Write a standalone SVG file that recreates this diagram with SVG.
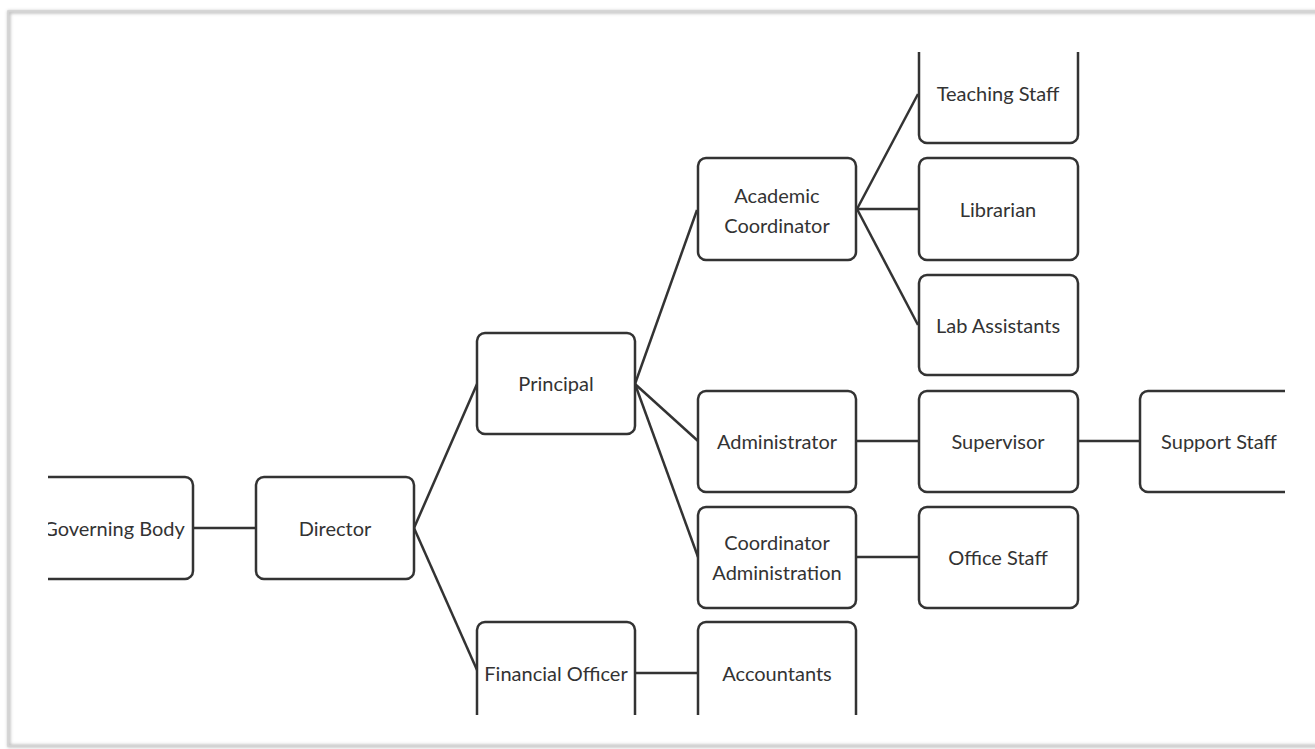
<svg xmlns="http://www.w3.org/2000/svg" width="1315" height="749" viewBox="0 0 1315 749">
<defs>
<style>
.box{fill:#fff;stroke:#333;stroke-width:2.5}
.lbl{font-family:Lato,"Open Sans","Liberation Sans",sans-serif;font-size:20px;fill:#333;text-anchor:middle;dominant-baseline:central}
.con line{stroke:#333;stroke-width:2.5;fill:none}
</style>
<clipPath id="clip"><rect x="48" y="52" width="1237" height="663"/></clipPath>
<filter id="sh" x="-5%" y="-5%" width="110%" height="110%"><feGaussianBlur stdDeviation="1.5"/></filter>
</defs>
<rect width="1315" height="749" fill="#fff"/>
<rect x="9" y="12" width="1320" height="734" fill="none" stroke="#bbb" stroke-width="3" filter="url(#sh)"/>
<rect x="8" y="11" width="1320" height="735" fill="none" stroke="#d4d4d4" stroke-width="1.5"/>
<g clip-path="url(#clip)">
<g id="connectors" class="con">
<line x1="193" y1="528" x2="256" y2="528"/>
<line x1="414" y1="528" x2="477" y2="384"/>
<line x1="414" y1="528" x2="477" y2="670"/>
<line x1="635" y1="384" x2="697" y2="210"/>
<line x1="635" y1="384" x2="698" y2="441"/>
<line x1="635" y1="384" x2="698" y2="557"/>
<line x1="857" y1="209" x2="918" y2="94"/>
<line x1="857" y1="209" x2="918" y2="209"/>
<line x1="857" y1="209" x2="918" y2="325"/>
<line x1="856" y1="441" x2="919" y2="441"/>
<line x1="1079" y1="441" x2="1140" y2="441"/>
<line x1="856" y1="557" x2="919" y2="557"/>
<line x1="636" y1="673" x2="698" y2="673"/>
</g>
<g id="governing"><rect class="box" x="35" y="477" width="158" height="102" rx="8"/><text class="lbl" x="114" y="528">Governing Body</text></g>
<g id="director"><rect class="box" x="256" y="477" width="158" height="102" rx="8"/><text class="lbl" x="335" y="528">Director</text></g>
<g id="principal"><rect class="box" x="477" y="333" width="158" height="101" rx="8"/><text class="lbl" x="556" y="383">Principal</text></g>
<g id="financial"><rect class="box" x="477" y="622" width="158" height="101" rx="8"/><text class="lbl" x="556" y="673">Financial Officer</text></g>
<g id="academic"><rect class="box" x="698" y="158" width="158" height="102" rx="8"/><text class="lbl" x="777" y="195">Academic</text><text class="lbl" x="777" y="225">Coordinator</text></g>
<g id="administrator"><rect class="box" x="698" y="391" width="158" height="101" rx="8"/><text class="lbl" x="777" y="441">Administrator</text></g>
<g id="coordadmin"><rect class="box" x="698" y="507" width="158" height="101" rx="8"/><text class="lbl" x="777" y="542">Coordinator</text><text class="lbl" x="777" y="572">Administration</text></g>
<g id="accountants"><rect class="box" x="698" y="622" width="158" height="101" rx="8"/><text class="lbl" x="777" y="673">Accountants</text></g>
<g id="teaching"><rect class="box" x="919" y="42" width="159" height="101" rx="8"/><text class="lbl" x="998" y="93">Teaching Staff</text></g>
<g id="librarian"><rect class="box" x="919" y="158" width="159" height="102" rx="8"/><text class="lbl" x="998" y="209">Librarian</text></g>
<g id="lab"><rect class="box" x="919" y="275" width="159" height="100" rx="8"/><text class="lbl" x="998" y="325">Lab Assistants</text></g>
<g id="supervisor"><rect class="box" x="919" y="391" width="159" height="101" rx="8"/><text class="lbl" x="998" y="441">Supervisor</text></g>
<g id="office"><rect class="box" x="919" y="507" width="159" height="101" rx="8"/><text class="lbl" x="998" y="557">Office Staff</text></g>
<g id="support"><rect class="box" x="1140" y="391" width="158" height="101" rx="8"/><text class="lbl" x="1219" y="441">Support Staff</text></g>
</g>
</svg>
